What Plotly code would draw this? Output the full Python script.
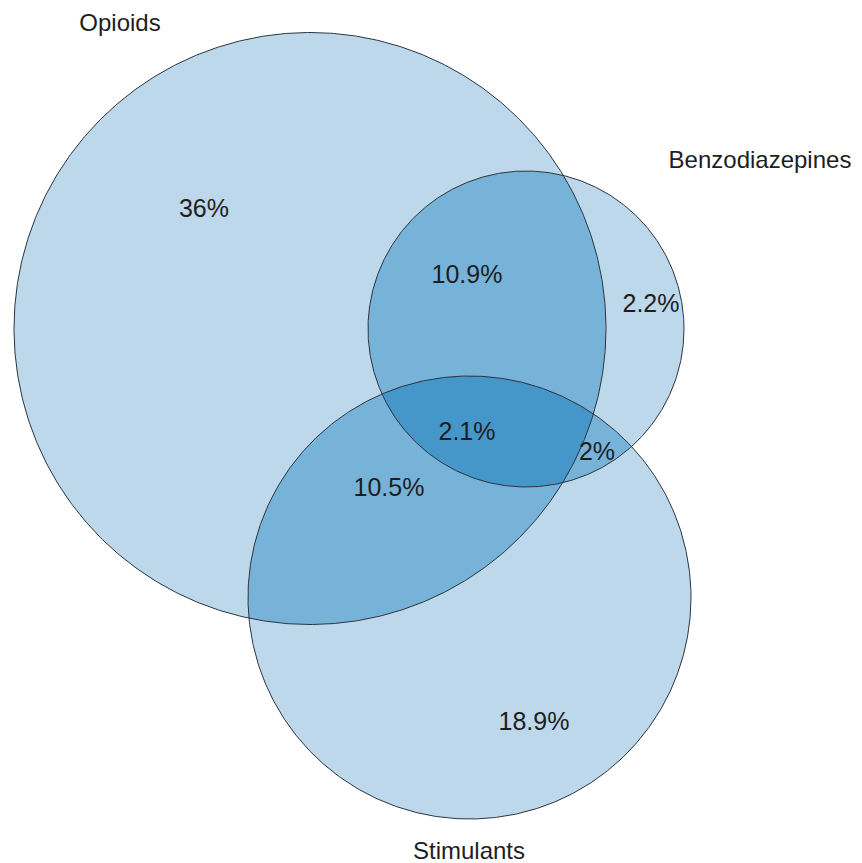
import numpy as np
import plotly.graph_objects as go

# ---- data ----
set_names = ["Opioids", "Benzodiazepines", "Stimulants"]
region_keys = ["O", "B", "S", "OB", "OS", "BS", "OBS"]
region_values = [36, 2.2, 18.9, 10.9, 10.5, 2, 2.1]  # percent

# ---- geometry (pixel-space layout of the diagram) ----
circle_cx = [310, 526, 469.5]
circle_cy = [328.5, 329, 597.5]
circle_r = [296, 158, 221.5]
set_label_pos = [(120, 25), (760, 162), (469, 853)]
region_label_pos = {
    "O": (204, 211), "B": (651, 306), "S": (534, 724),
    "OB": (467, 277), "OS": (389, 490), "BS": (597, 454), "OBS": (467, 434),
}

C1 = "#bdd8eb"
C2 = "#77b3d8"
C3 = "#4596c9"
LINE = "#2b3440"

VW, VH = 862, 863
PAD = 8  # default body margin of the html page
W, H = VW - PAD, VH - PAD


def circle_pts(i, n=720):
    t = np.linspace(0, 2 * np.pi, n, endpoint=False)
    return circle_cx[i] + circle_r[i] * np.cos(t), circle_cy[i] + circle_r[i] * np.sin(t)


def inside(x, y, j):
    return (x - circle_cx[j]) ** 2 + (y - circle_cy[j]) ** 2 <= circle_r[j] ** 2 + 1e-6


def intersection_poly(idx):
    xs, ys = [], []
    for i in idx:
        x, y = circle_pts(i, 4000)
        m = np.ones_like(x, dtype=bool)
        for j in idx:
            if j != i:
                m &= inside(x, y, j)
        xs.append(x[m]); ys.append(y[m])
    x = np.concatenate(xs); y = np.concatenate(ys)
    mx, my = x.mean(), y.mean()
    order = np.argsort(np.arctan2(y - my, x - mx))
    x = x[order]; y = y[order]
    return np.append(x, x[0]), np.append(y, y[0])


fig = go.Figure()

# single-set fills
for i in range(3):
    x, y = circle_pts(i)
    fig.add_trace(go.Scatter(x=np.append(x, x[0]), y=np.append(y, y[0]), fill="toself",
                             fillcolor=C1, line=dict(width=0), mode="lines",
                             hoverinfo="skip", showlegend=False))
# pairwise overlaps
for pair in [(0, 1), (0, 2), (1, 2)]:
    x, y = intersection_poly(pair)
    fig.add_trace(go.Scatter(x=x, y=y, fill="toself", fillcolor=C2, line=dict(width=0),
                             mode="lines", hoverinfo="skip", showlegend=False))
# triple overlap
x, y = intersection_poly((0, 1, 2))
fig.add_trace(go.Scatter(x=x, y=y, fill="toself", fillcolor=C3, line=dict(width=0),
                         mode="lines", hoverinfo="skip", showlegend=False))
# outlines
for i in range(3):
    x, y = circle_pts(i)
    fig.add_trace(go.Scatter(x=np.append(x, x[0]), y=np.append(y, y[0]), mode="lines",
                             line=dict(color=LINE, width=1), hoverinfo="skip", showlegend=False))

FONT = dict(family="Liberation Sans, Arial", size=25, color="#1e1e1e")
SET_FONT = dict(family="Liberation Sans, Arial", size=24, color="#1e1e1e")

# region labels
fig.add_trace(go.Scatter(
    x=[region_label_pos[k][0] for k in region_keys],
    y=[region_label_pos[k][1] for k in region_keys],
    text=[f"{v:g}%" for v in region_values], mode="text", cliponaxis=False,
    textfont=FONT, hoverinfo="skip", showlegend=False))
# set labels
fig.add_trace(go.Scatter(
    x=[p[0] for p in set_label_pos], y=[p[1] for p in set_label_pos],
    text=set_names, mode="text", cliponaxis=False,
    textfont=SET_FONT, hoverinfo="skip", showlegend=False))

fig.update_layout(
    width=W, height=H, margin=dict(l=0, r=0, t=0, b=0),
    paper_bgcolor="white", plot_bgcolor="white",
    xaxis=dict(range=[PAD, VW], visible=False, fixedrange=True),
    yaxis=dict(range=[VH, PAD], visible=False, fixedrange=True),
)
fig.write_html("out.html")
